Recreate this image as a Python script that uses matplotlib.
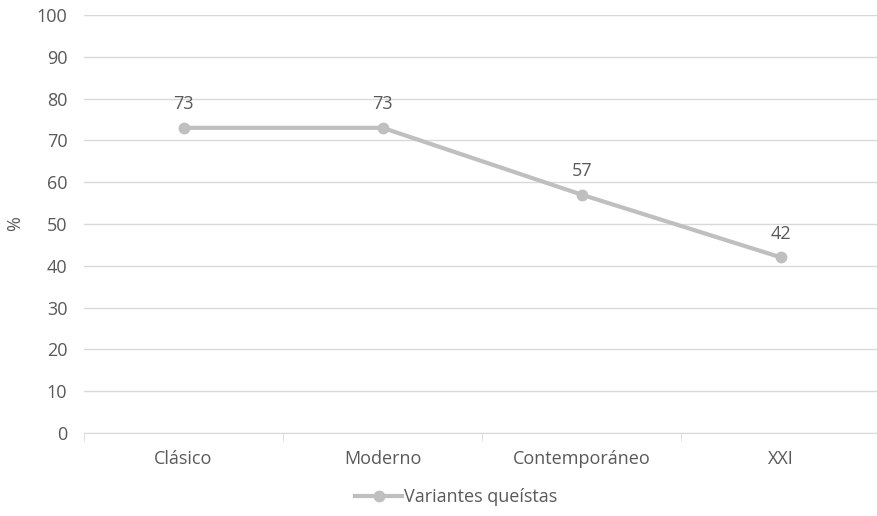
import matplotlib.pyplot as plt
import numpy as np

periodos = ['Clásico', 'Moderno', 'Contemporáneo', 'XXI']
valores = [73, 73, 57, 42]
serie = 'Variantes queístas'

gris_linea = '#BFBFBF'
gris_texto = '#595959'
gris_rejilla = '#D9D9D9'

plt.rcParams['font.family'] = ['Open Sans', 'DejaVu Sans']
tam = 13

fig = plt.figure(figsize=(8.77, 5.16), dpi=100)
ax = fig.add_axes([0.0958, 0.161, 0.908, 0.81])

x = np.arange(len(periodos))
ax.plot(x, valores, color=gris_linea, linewidth=3, marker='o',
        markersize=7.5, label=serie, zorder=3)

# etiquetas de valor encima de cada punto
for xi, v in zip(x, valores):
    ax.annotate(str(v), (xi, v), xytext=(0, 10.5), textcoords='offset points',
                ha='center', va='bottom', fontsize=tam, color=gris_texto)

ax.set_ylim(0, 100)
ax.set_yticks(range(0, 101, 10))
ax.set_xlim(-0.5, len(periodos) - 0.5)
ax.set_xticks(x)
ax.set_xticklabels(periodos)
ax.set_xticks(np.arange(-0.5, len(periodos), 1), minor=True)

ax.grid(axis='y', color=gris_rejilla, linewidth=1)
ax.set_axisbelow(True)
for lado in ['top', 'right', 'left']:
    ax.spines[lado].set_visible(False)
ax.spines['bottom'].set_color(gris_rejilla)

ax.tick_params(axis='y', length=0, pad=12, labelsize=tam, labelcolor=gris_texto)
ax.tick_params(axis='x', which='major', length=0, pad=12, labelsize=tam,
               labelcolor=gris_texto)
ax.tick_params(axis='x', which='minor', length=6, color=gris_rejilla)

ax.set_ylabel('%', fontsize=tam, color=gris_texto, labelpad=9)

fig.legend(loc='center', bbox_to_anchor=(0.52, 0.037), frameon=False,
           fontsize=tam, labelcolor=gris_texto, handlelength=2.6,
           handletextpad=0.1)

fig.savefig('out.png', dpi=100)
